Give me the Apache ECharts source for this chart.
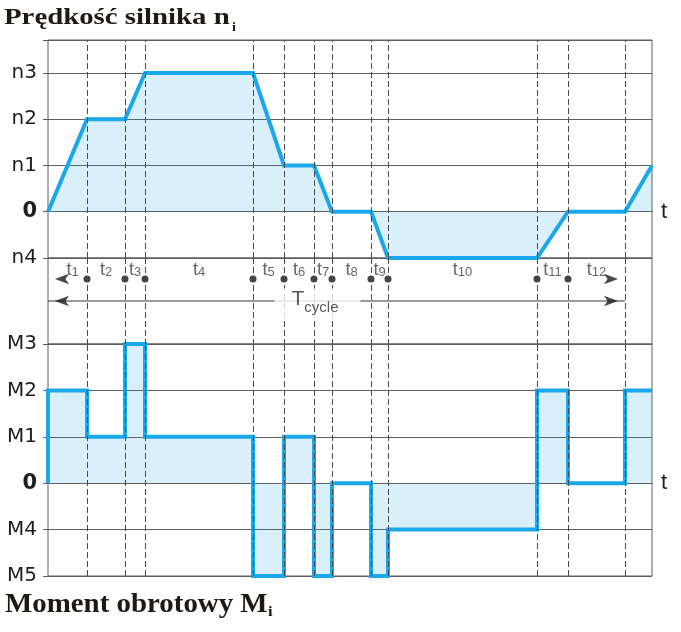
<!DOCTYPE html>
<html><head><meta charset="utf-8">
<script src="https://cdn.jsdelivr.net/npm/echarts@6/dist/echarts.min.js"></script>
<style>html,body{margin:0;padding:0;background:#fff}#c{width:681px;height:632px}</style>
</head><body><div id="c"></div>
<script>
// phase boundaries (time units), start of t1 ... end of cycle / end of view
const boundaries = [0, 3.9, 7.7, 9.7, 20.5, 23.6, 26.6, 28.4, 32.3, 34.0, 48.9, 52.0, 57.7, 60.4];
const phaseNames = ['1','2','3','4','5','6','7','8','9','10','11','12'];
// motor speed at each boundary (n4=-1, 0, n1=1, n2=2, n3=3)
const speedValues = [0, 2, 2, 3, 3, 1, 1, 0, 0, -1, -1, 0, 0, 1];
const speedTickValues = [-1, 0, 1, 2, 3];
const speedTickLabels = ['n4', '0', 'n1', 'n2', 'n3'];
// motor torque during each phase starting at boundary i (M5=-2, M4=-1, 0, M1=1, M2=2, M3=3)
const torqueValues = [2, 1, 3, 1, -2, 1, -2, 0, -2, -1, 2, 0, 2];
const torqueTickValues = [-2, -1, 0, 1, 2, 3];
const torqueTickLabels = ['M5', 'M4', '0', 'M1', 'M2', 'M3'];
const cycleEndIndex = 12;
const titleTop = 'Prędkość silnika n';
const titleBottom = 'Moment obrotowy M';
const titleSub = 'i';
const axisName = 't';
const cycleText = ['T', 'cycle'];

const X_MIN = boundaries[0], X_MAX = boundaries[boundaries.length - 1];
const cycleStart = boundaries[0], cycleEnd = boundaries[cycleEndIndex];
const interior = boundaries.slice(1, boundaries.length - 1);

const LINE = '#1aa8ea';
const AREA = 'rgba(30,166,232,0.24)';
const GRIDC = '#5e5e5e';
const DASH = { color: '#4a4a4a', width: 1, type: [6, 3] };
const TITLEC = '#1d1915';
const DOT_ROW = 21, CYCLE_ROW = 43, LABEL_ROW = 12;

const speedData = boundaries.map((b, i) => [b, speedValues[i]]);
const torqueData = [[boundaries[0], 0]].concat(
  torqueValues.map((v, i) => [boundaries[i], v]),
  [[X_MAX, torqueValues[torqueValues.length - 1]]]
);

function levelFormatter(values, labels) {
  return function (v) {
    const i = values.indexOf(v);
    if (i < 0) return '';
    return v === 0 ? '{z|0}' : labels[i];
  };
}
const yLabel = {
  color: '#1e1e1e', fontSize: 20, fontFamily: 'DejaVu Sans', margin: 11,
  rich: { z: { fontSize: 21, fontWeight: 'bold', fontFamily: 'DejaVu Sans', color: '#1e1e1e' } }
};

const gridCommon = { left: 48, right: 29, show: true, borderColor: GRIDC, borderWidth: 1, backgroundColor: 'transparent' };

function dashSeries(xi, yi) {
  return {
    type: 'line', xAxisIndex: xi, yAxisIndex: yi, data: [], z: 1, silent: true,
    markLine: { silent: true, symbol: 'none', label: { show: false }, lineStyle: DASH,
      emphasis: { disabled: true }, animation: false,
      data: interior.map(b => ({ xAxis: b })) }
  };
}
function xAxisFor(gi, showName) {
  return {
    type: 'value', gridIndex: gi, min: X_MIN, max: X_MAX, show: showName,
    axisLine: { show: showName, onZero: true, lineStyle: { color: GRIDC, width: 1 } },
    axisTick: { show: false }, axisLabel: { show: false }, splitLine: { show: false },
    name: showName ? axisName : '', nameLocation: 'end', nameGap: 9,
    nameTextStyle: { fontSize: 22, color: '#1e1e1e', fontFamily: 'Liberation Sans' }
  };
}
function titleText(x, y, text, size, scaleX) {
  return { type: 'text', x: x, y: y, scaleX: scaleX, z: 10, silent: true,
    style: { text: text, font: 'bold ' + size + 'px "Liberation Serif"', fill: TITLEC, verticalAlign: 'top' } };
}
// arrow heads: tip placed on the given time, pointing outwards
function arrowHeads(row) {
  return [
    { value: [cycleStart, row], symbolRotate: 90, symbolOffset: [7, 0] },
    { value: [cycleEnd, row], symbolRotate: -90, symbolOffset: [-7, 0] }
  ];
}

const segCenters = phaseNames.map((n, i) => {
  const item = { value: [(boundaries[i] + boundaries[i + 1]) / 2, LABEL_ROW], name: n };
  if (i === 0) item.label = { offset: [5, 0] };
  return item;
});

const chart = echarts.init(document.getElementById('c'), null, { renderer: 'canvas' });
chart.setOption({
  animation: false,
  backgroundColor: '#fff',
  grid: [
    Object.assign({ top: 40, height: 218 }, gridCommon),
    Object.assign({ top: 258, height: 86 }, gridCommon),
    Object.assign({ top: 344, height: 232 }, gridCommon)
  ],
  xAxis: [xAxisFor(0, true), xAxisFor(1, false), xAxisFor(2, true)],
  yAxis: [
    { type: 'value', gridIndex: 0, min: -1, max: 3.713, interval: 1,
      axisLine: { show: false }, axisTick: { show: true, length: 5, lineStyle: { color: GRIDC } },
      splitLine: { show: true, lineStyle: { color: GRIDC, width: 1 } },
      axisLabel: Object.assign({ formatter: levelFormatter(speedTickValues, speedTickLabels) }, yLabel) },
    { type: 'value', gridIndex: 1, min: 0, max: 86, inverse: true, show: false },
    { type: 'value', gridIndex: 2, min: -2, max: 3, interval: 1,
      axisLine: { show: false }, axisTick: { show: true, length: 5, lineStyle: { color: GRIDC } },
      splitLine: { show: true, lineStyle: { color: GRIDC, width: 1 } },
      axisLabel: Object.assign({ formatter: levelFormatter(torqueTickValues, torqueTickLabels) }, yLabel) }
  ],
  graphic: [
    titleText(4, 6, titleTop, 24, 1.2),
    titleText(232, 21, titleSub, 13, 1.1),
    titleText(5, 592, titleBottom, 27, 1.07),
    titleText(268, 605, titleSub, 15, 1.1)
  ],
  series: [
    dashSeries(0, 0), dashSeries(1, 1), dashSeries(2, 2),
    { type: 'line', name: 'speed', xAxisIndex: 0, yAxisIndex: 0, data: speedData, z: 3,
      showSymbol: false, silent: true,
      lineStyle: { color: LINE, width: 4, join: 'miter' }, areaStyle: { color: AREA, origin: 0 } },
    { type: 'line', name: 'torque', xAxisIndex: 2, yAxisIndex: 2, data: torqueData, z: 3, step: 'end',
      showSymbol: false, silent: true,
      lineStyle: { color: LINE, width: 4, join: 'miter' }, areaStyle: { color: AREA, origin: 0 } },
    // T cycle line
    { type: 'line', xAxisIndex: 1, yAxisIndex: 1, z: 2, silent: true, showSymbol: false,
      lineStyle: { color: '#333', width: 1 },
      data: [[cycleStart, CYCLE_ROW], [cycleEnd, CYCLE_ROW]] },
    // arrow heads
    { type: 'scatter', xAxisIndex: 1, yAxisIndex: 1, z: 4, silent: true,
      symbol: 'arrow', symbolSize: [8, 14], itemStyle: { color: '#1a1a1a' },
      data: arrowHeads(DOT_ROW).concat(arrowHeads(CYCLE_ROW)) },
    // boundary dots
    { type: 'scatter', xAxisIndex: 1, yAxisIndex: 1, z: 4, silent: true,
      symbol: 'circle', symbolSize: 7, itemStyle: { color: '#151515' },
      data: boundaries.slice(1, cycleEndIndex).map(b => [b, DOT_ROW]) },
    // phase labels
    { type: 'scatter', xAxisIndex: 1, yAxisIndex: 1, z: 5, silent: true, symbolSize: 0,
      data: segCenters,
      label: { show: true, position: 'inside', color: '#404040',
        formatter: p => '{t|t}{d|' + p.name + '}',
        rich: { t: { fontSize: 18, lineHeight: 18, verticalAlign: 'bottom', fontFamily: 'Liberation Sans', color: '#404040' },
                d: { fontSize: 13, lineHeight: 13, verticalAlign: 'bottom', fontFamily: 'Liberation Sans', color: '#404040' } } } },
    // T cycle label
    { type: 'scatter', xAxisIndex: 1, yAxisIndex: 1, z: 6, silent: true, symbolSize: 0,
      data: [[(cycleStart + cycleEnd) / 2, 45.5]],
      label: { show: true, position: 'inside', offset: [-19, 0], backgroundColor: '#fff', padding: [0, 22, 3, 17],
        formatter: '{T|' + cycleText[0] + '}{c|' + cycleText[1] + '}',
        rich: { T: { fontSize: 21, lineHeight: 21, verticalAlign: 'top', fontFamily: 'Liberation Sans', color: '#303030' },
                c: { fontSize: 15, lineHeight: 27, verticalAlign: 'bottom', fontFamily: 'Liberation Sans', color: '#303030' } } } }
  ]
});
</script></body></html>
